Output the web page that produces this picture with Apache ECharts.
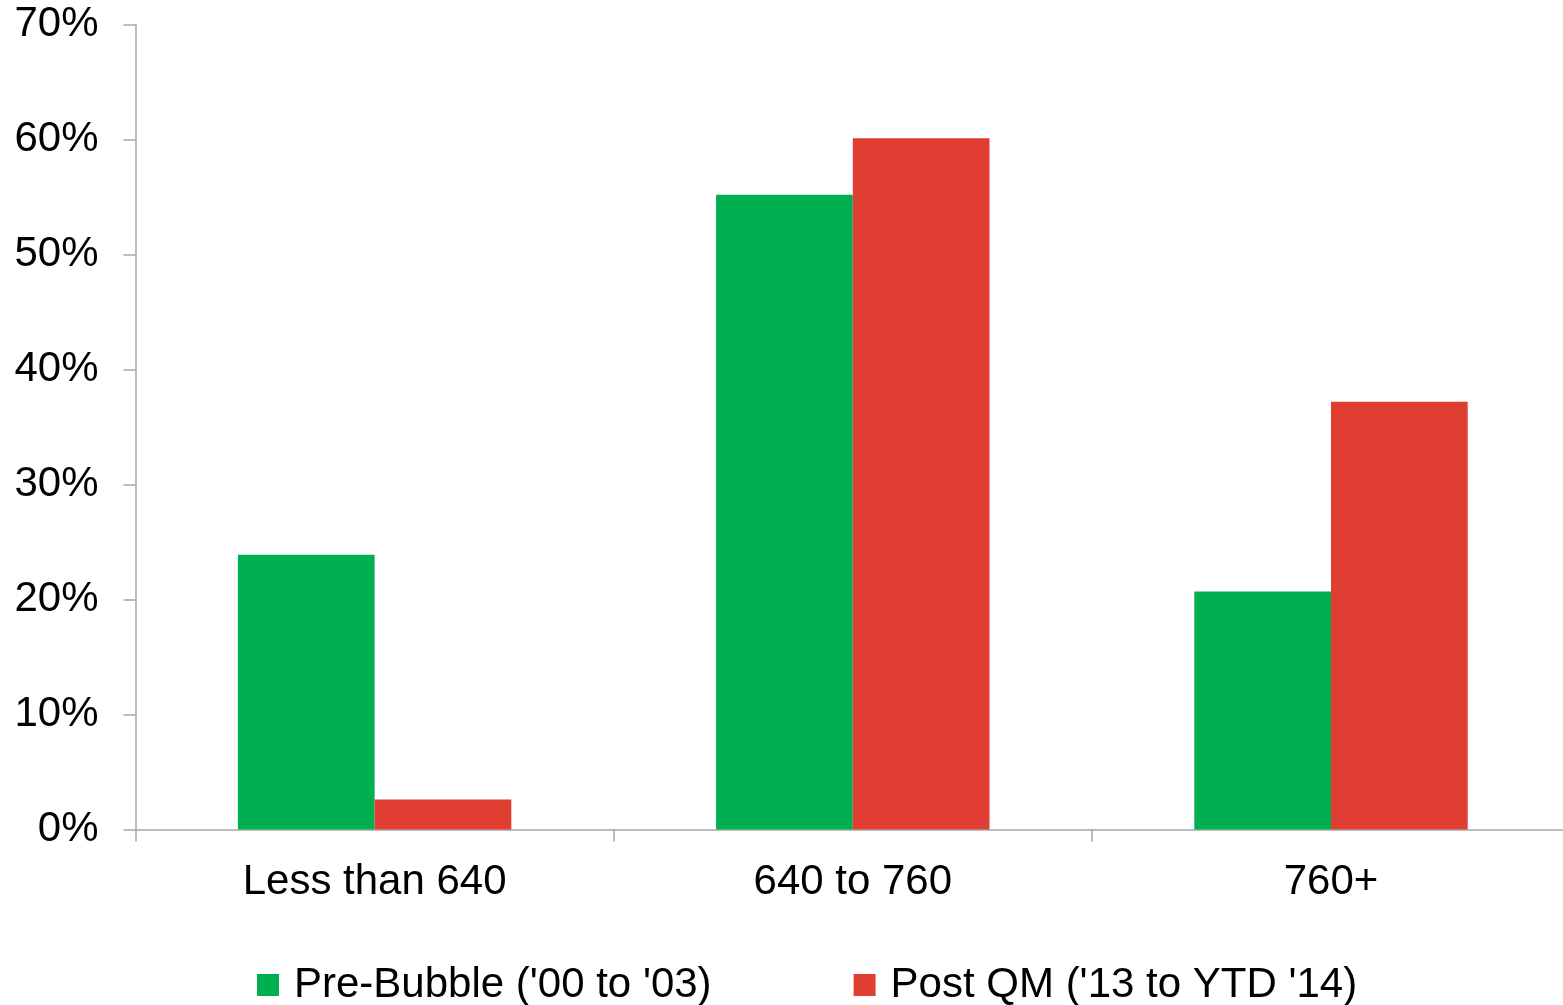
<!DOCTYPE html>
<html>
<head>
<meta charset="utf-8">
<title>Credit score mix</title>
<script src="https://cdn.jsdelivr.net/npm/echarts@6/dist/echarts.min.js"></script>
<style>
  html, body { margin: 0; padding: 0; background: #ffffff; }
  #chart { width: 1563px; height: 1005px; }
</style>
</head>
<body>
<div id="chart"></div>
<script>
// FICO score buckets on the category axis
const categories = ['Less than 640', '640 to 760', '760+'];

// Share of originations per bucket, in percent
const preBubble = [23.9, 55.2, 20.7];
const postQM = [2.6, 60.1, 37.2];

const seriesNames = ["Pre-Bubble ('00 to '03)", "Post QM ('13 to YTD '14)"];

// Value axis ticks: 0% .. 70% every 10%
const yMin = 0;
const yMax = 70;
const yStep = 10;

const FONT = '"Liberation Sans", Arial, sans-serif';
const AXIS_GREY = '#A6A6A6';

const chart = echarts.init(document.getElementById('chart'), null, { renderer: 'canvas' });

chart.setOption({
  animation: false,
  backgroundColor: '#ffffff',
  textStyle: { fontFamily: FONT },
  grid: {
    left: 135.5,
    top: 24.5,
    width: 1434.6,
    bottom: 175.5,
    containLabel: false,
    outerBoundsMode: 'none'
  },
  legend: {
    left: 257,
    top: 964,
    padding: 0,
    itemWidth: 22,
    itemHeight: 22,
    itemGap: 142,
    icon: 'rect',
    textStyle: {
      fontFamily: FONT,
      fontSize: 42,
      color: '#000000',
      padding: [0, 0, 0, 10]
    },
    data: seriesNames
  },
  xAxis: {
    type: 'category',
    data: categories,
    axisLine: { show: true, lineStyle: { color: AXIS_GREY, width: 1.5 } },
    axisTick: { show: true, length: 12, alignWithLabel: false, lineStyle: { color: AXIS_GREY, width: 1.5 } },
    axisLabel: {
      fontFamily: FONT,
      fontSize: 42,
      color: '#000000',
      margin: 32
    },
    splitLine: { show: false }
  },
  yAxis: {
    type: 'value',
    min: yMin,
    max: yMax,
    interval: yStep,
    axisLine: { show: true, lineStyle: { color: AXIS_GREY, width: 1.5 } },
    axisTick: { show: true, length: 12, lineStyle: { color: AXIS_GREY, width: 1.5 } },
    axisLabel: {
      fontFamily: FONT,
      fontSize: 42,
      color: '#000000',
      margin: 37,
      padding: [5, 0, 0, 0],
      formatter: function (v) { return v + '%'; }
    },
    splitLine: { show: false }
  },
  series: [
    {
      name: seriesNames[0],
      type: 'bar',
      data: preBubble,
      barWidth: 136.7,
      barGap: '0%',
      itemStyle: { color: '#00AF50' }
    },
    {
      name: seriesNames[1],
      type: 'bar',
      data: postQM,
      barWidth: 136.7,
      barGap: '0%',
      itemStyle: { color: '#E03D33' }
    }
  ]
});
</script>
</body>
</html>
